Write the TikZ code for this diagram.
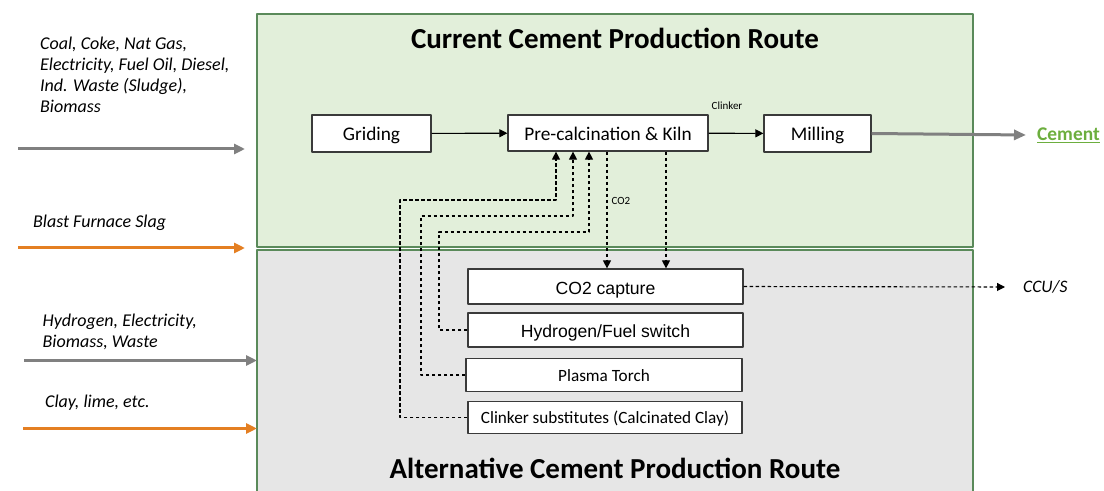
\documentclass[tikz,border=0pt]{standalone}
\usepackage{fontspec}
\setmainfont{Carlito}
\newfontfamily\arialfont{Liberation Sans}
\usepackage{tikz}
\usetikzlibrary{arrows.meta,positioning}

\definecolor{topfill}{HTML}{E2EFDA}
\definecolor{botfill}{HTML}{E6E6E6}
\definecolor{routeline}{HTML}{5A8A5A}
\definecolor{feedgray}{HTML}{808080}
\definecolor{feedorange}{HTML}{E47F22}
\definecolor{cemgreen}{HTML}{6CAE3E}
\definecolor{boxline}{HTML}{3A3A3A}

\begin{document}
\begin{tikzpicture}[x=1bp,y=-1bp,>={Triangle[length=8bp,width=8bp]},line join=bevel,
  stage/.style={draw=boxline,fill=white,line width=1.2bp,inner sep=0pt,text height=14.3bp,text depth=0pt,font=\fontsize{19.3bp}{23bp}\selectfont},
  altstage/.style={stage,text height=12bp,font=\fontsize{17.2bp}{21bp}\selectfont},
  altarial/.style={stage,text height=15.1bp,font=\arialfont\fontsize{17.6bp}{21bp}\selectfont},
  feedtext/.style={inner sep=0pt,anchor=base west,align=left,font=\itshape\fontsize{18bp}{21.3bp}\selectfont},
  feed/.style={line width=3bp,-{Triangle[length=11bp,width=10bp]}},
  flow/.style={line width=1.1bp,->},
  dashflow/.style={line width=1.1bp,dash pattern=on 3.5bp off 2.5bp,->},
  tiny/.style={inner sep=0pt,font=\fontsize{11bp}{13bp}\selectfont},
  routetitle/.style={anchor=base,inner sep=0pt,font=\bfseries\fontsize{29bp}{34bp}\selectfont}]

\useasboundingbox (0,0) rectangle (1104,491);

  % Areas
  \draw[draw=routeline,fill=topfill,line width=1.2bp] (257,14) rectangle (973,247);
  \draw[draw=routeline,fill=botfill,line width=1.2bp] (257,250) rectangle (973,495);
  \node[routetitle] (currtitle) at (615,48.5) {Current Cement Production Route};
  \node[routetitle] (alttitle) at (615,478.5) {Alternative Cement Production Route};

  % Node: griding
  \node[stage,minimum width=119bp,minimum height=37bp] (griding) at (371.5,133.5) {Griding};
  % Node: kiln
  \node[stage,minimum width=200bp,minimum height=36bp] (kiln) at (608,133) {Pre-calcination \& Kiln};
  % Node: milling
  \node[stage,minimum width=107bp,minimum height=37bp] (milling) at (817.5,133.5) {Milling};
  % Node: capture
  \node[altarial,minimum width=275bp,minimum height=35bp] (capture) at (605.5,286.5) {CO2 capture};
  % Node: switch
  \node[altarial,minimum width=275bp,minimum height=34bp] (switch) at (605.5,330) {Hydrogen/Fuel switch};
  % Node: torch
  \node[altstage,minimum width=276bp,minimum height=33bp] (torch) at (604,375) {Plasma Torch};
  % Node: subst
  \node[altstage,minimum width=274bp,minimum height=32bp] (subst) at (605,417.5) {Clinker substitutes (Calcinated Clay)};
  % Node: cement
  \node[anchor=base west,inner sep=0pt,text=cemgreen,font=\bfseries\fontsize{19.4bp}{23bp}\selectfont] (cement) at (1037,141) {\underline{Cement}};
  % Node: ccus
  \node[anchor=base west,inner sep=0pt,font=\itshape\fontsize{17.5bp}{21bp}\selectfont] (ccus) at (1023,293) {CCU/S};
  % Node: clinker
  \node[tiny] (clinker) at (727,106) {Clinker};

  % Feed labels (base = last line)
  \node[feedtext] (fuels) at (40,113) {Coal, Coke, Nat Gas,\\Electricity, Fuel Oil, Diesel,\\Ind. Waste (Sludge),\\Biomass};
  \node[feedtext] (slag) at (33,228) {Blast Furnace Slag};
  \node[feedtext] (hydro) at (42.5,347.5) {Hydrogen, Electricity,\\Biomass, Waste};
  \node[feedtext] (clay) at (45,407.5) {Clay, lime, etc.};

  % Feed arrows
  \coordinate (f1s) at (18,149);    \coordinate (f1e) at (245,149);
  \coordinate (f2s) at (18,248);    \coordinate (f2e) at (245,248);
  \coordinate (f3s) at (24,360.5);  \coordinate (f3e) at (257,360.5);
  \coordinate (f4s) at (23,428.5);  \coordinate (f4e) at (257,428.5);
  \draw[feed,feedgray] (f1s) -- (f1e);
  \draw[feed,feedorange] (f2s) -- (f2e);
  \draw[feed,feedgray] (f3s) -- (f3e);
  \draw[feed,feedorange] (f4s) -- (f4e);

  % Edge: griding -> kiln
  \draw[flow] (griding) -- (kiln);
  % Edge: kiln -> milling
  \draw[flow] (kiln) -- (milling);
  % Edge: milling -> cement
  \coordinate (cemtip) at (1026,135);
  \draw[feed,feedgray,-{Triangle[length=12bp,width=10bp]}] (milling.east) -- (cemtip);
  % Edge: kiln -> capture
  \coordinate (out1) at ([xshift=-1bp]kiln.south);
  \coordinate (out2) at ([xshift=58bp]kiln.south);
  \draw[dashflow] (out1) -- node[tiny,pos=0.42,right=4bp] (co2lab) {CO2} (out1 |- capture.north);
  \draw[dashflow] (out2) -- (out2 |- capture.north);
  % Edge: capture -> ccus
  \coordinate (ccutip) at (1005,287);
  \draw[dashflow] (capture.east) -- (ccutip);
  % Edge: subst -> kiln
  \draw[dashflow] (subst.west) -| (400,200) -| ([xshift=-52bp]kiln.south);
  % Edge: torch -> kiln
  \draw[dashflow] (torch.west) -| (421,216) -| ([xshift=-35bp]kiln.south);
  % Edge: switch -> kiln
  \draw[dashflow] (switch.west) -| (439,232) -| ([xshift=-19bp]kiln.south);
%
\end{tikzpicture}
\end{document}
